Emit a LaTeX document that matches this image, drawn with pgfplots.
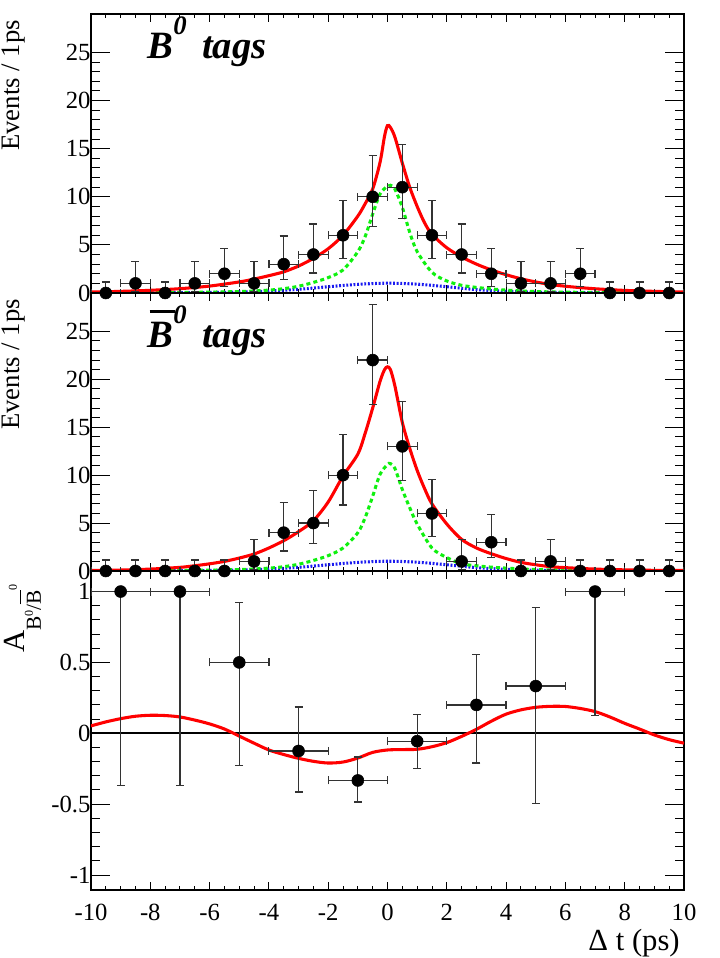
\documentclass[border=0pt]{standalone}
\usepackage{fontspec}
\setmainfont{Liberation Serif}
\usepackage{pgfplots}
\pgfplotsset{compat=1.18}
\usepackage{pgfplotstable}
\usetikzlibrary{calc}
\definecolor{rred}{RGB}{255,0,0}
\definecolor{rgreen}{RGB}{15,240,15}
\definecolor{rblue}{RGB}{25,25,240}

\pgfplotstableread{
x y ep em
-9.5 0 1.15 0
-8.5 1 2.299 0.827
-7.5 0 1.15 0
-6.5 1 2.299 0.827
-5.5 2 2.638 1.291
-4.5 1 2.299 0.827
-3.5 3 2.918 1.633
-2.5 4 3.162 1.914
-1.5 6 3.583 2.380
-0.5 10 4.266 3.108
0.5 11 4.416 3.265
1.5 6 3.583 2.380
2.5 4 3.162 1.914
3.5 2 2.638 1.291
4.5 1 2.299 0.827
5.5 1 2.299 0.827
6.5 2 2.638 1.291
7.5 0 1.15 0
8.5 0 1.15 0
9.5 0 1.15 0
}\dataA

\pgfplotstableread{
x y ep em
-9.5 0 1.15 0
-8.5 0 1.15 0
-7.5 0 1.15 0
-6.5 0 1.15 0
-5.5 0 1.15 0
-4.5 1 2.299 0.827
-3.5 4 3.162 1.914
-2.5 5 3.382 2.159
-1.5 10 4.266 3.108
-0.5 22 5.768 4.655
0.5 13 4.697 3.558
1.5 6 3.583 2.380
2.5 1 2.299 0.827
3.5 3 2.918 1.633
4.5 0 1.15 0
5.5 1 2.299 0.827
6.5 0 1.15 0
7.5 0 1.15 0
8.5 0 1.15 0
9.5 0 1.15 0
}\dataB

\pgfplotstableread{
x y ep em
-9 1 0 1.37
-7 1 0 1.37
-5 0.5 0.42 0.73
-3 -0.125 0.31 0.29
-1 -0.333 0.166 0.152
1 -0.056 0.19 0.19
3 0.2 0.355 0.41
5 0.333 0.553 0.83
7 1 0 0.876
}\dataC

\pgfplotsset{
  myax/.style={
    scale only axis, width=444.75pt, anchor=south west,
    xmin=-10, xmax=10, clip mode=individual,
    xtick={-10,-8,...,10}, minor x tick num=3,
    axis line style={line width=1.2pt},
    tick style={black, line width=0.7pt},
    xtick style={/pgfplots/major tick length=6pt,/pgfplots/minor tick length=3pt},
    ytick style={/pgfplots/major tick length=14pt,/pgfplots/minor tick length=7pt},
    tick label style={font=\fontsize{18.5}{18.5}\selectfont},
    yticklabel style={xshift=3.1pt},
    xticklabel style={yshift=-7.4pt},
    /pgf/number format/assume math mode=true,
  },
  datst/.style={only marks, mark=*, mark size=4.5pt, black,
    error bars/.cd, x dir=both, x fixed=#1, y dir=both, y explicit,
    error bar style={line width=0.9pt, black!80},
    error mark options={rotate=90, line width=0.9pt, black!80, mark size=3pt}},
  redc/.style={rred, line width=2.3pt, smooth, no marks},
  greenc/.style={rgreen, line width=2.3pt, dash pattern=on 3pt off 2.4pt, smooth, no marks},
  bluec/.style={rblue, line width=2.3pt, dash pattern=on 1.4pt off 1.3pt, smooth, no marks},
}

\begin{document}
\begin{tikzpicture}
\useasboundingbox (0,0) rectangle (540pt,718.5pt);

% ---------------- Panel 1: B0 tags
\begin{axis}[myax, at={(68.25pt,498.75pt)}, height=209.25pt,
  ymin=0, ymax=29, ytick={0,5,...,25}, minor y tick num=4, xticklabels={}]
\addplot[bluec] coordinates {(-10,0.0) (-8,0.01) (-6,0.05) (-5,0.1) (-4,0.2) (-3,0.38) (-2,0.65) (-1,0.9) (0,1.02) (1,0.92) (2,0.65) (3,0.35) (4,0.17) (5,0.08) (6,0.04) (8,0.01) (10,0.0)};
\addplot[greenc] coordinates {(-10,0.02) (-7,0.05) (-5,0.15) (-4,0.3) (-3.5,0.45) (-3,0.7) (-2.5,1.1) (-2,1.6) (-1.5,2.4) (-1,4.3) (-0.75,5.9) (-0.5,8.2) (-0.25,10.3) (0,11.1) (0.1,11.2) (0.25,10.8) (0.5,8.9) (0.75,6.3) (1,4.3) (1.5,2.15) (2,1.25) (2.5,0.8) (3,0.58) (3.5,0.42) (4,0.3) (5,0.15) (7,0.05) (10,0.02)};
\addplot[redc] coordinates {(-10,0.1) (-9,0.17) (-8,0.28) (-7,0.45) (-6,0.72) (-5,1.15) (-4.5,1.45) (-4,1.8) (-3.5,2.2) (-3,2.8) (-2.5,3.6) (-2,4.6) (-1.5,6.0) (-1,8.0) (-0.75,9.3) (-0.5,10.8) (-0.25,13.6) (-0.1,16.3) (0,17.4) (0.1,17.2) (0.25,16.2) (0.5,13.5) (0.75,11.0) (1,9.0) (1.25,7.3) (1.5,6.1) (2,4.7) (2.5,3.75) (3,3.0) (3.5,2.4) (4,1.9) (4.5,1.48) (5,1.15) (5.5,0.88) (6,0.7) (6.5,0.56) (7,0.44) (7.5,0.35) (8,0.27) (9,0.17) (10,0.1)};
\addplot[datst=0.5] table[x=x, y=y, y error plus=ep, y error minus=em] {\dataA};
\node[anchor=base west, inner sep=0, font=\fontsize{29}{29}\selectfont\bfseries\itshape] at (axis cs:-8.1,24.4) {B\raisebox{0.62em}{\fontsize{20}{20}\selectfont 0}\hspace{0.4em}tags};
\node[rotate=90, anchor=north east, inner sep=0, font=\fontsize{20}{20}\selectfont] at ($(rel axis cs:0,1)+(-66.75pt,-4.5pt)$) {Events / 1ps};
\end{axis}

% ---------------- Panel 2: B0bar tags
\begin{axis}[myax, at={(68.25pt,290.25pt)}, height=208.5pt,
  ymin=0, ymax=29, ytick={0,5,...,25}, minor y tick num=4, xticklabels={}]
\addplot[bluec] coordinates {(-10,0.0) (-8,0.01) (-6,0.05) (-5,0.1) (-4,0.2) (-3,0.38) (-2,0.65) (-1,0.9) (0,1.02) (1,0.92) (2,0.65) (3,0.35) (4,0.17) (5,0.08) (6,0.04) (8,0.01) (10,0.0)};
\addplot[greenc] coordinates {(-10,0.02) (-7,0.05) (-5,0.15) (-4,0.3) (-3.5,0.45) (-3,0.7) (-2.5,1.1) (-2,1.6) (-1.5,2.4) (-1,4.0) (-0.75,5.6) (-0.5,7.8) (-0.25,10.1) (0,11.1) (0.1,11.2) (0.25,10.7) (0.5,8.5) (0.75,6.6) (1,4.9) (1.5,2.4) (2,1.4) (2.5,0.75) (3,0.55) (3.5,0.4) (4,0.3) (5,0.15) (7,0.05) (10,0.02)};
\addplot[redc] coordinates {(-10,0.05) (-9,0.1) (-8,0.2) (-7,0.38) (-6.5,0.55) (-6,0.75) (-5.5,1.0) (-5,1.35) (-4.5,1.77) (-4,2.4) (-3.5,3.16) (-3,4.1) (-2.5,5.25) (-2,7.2) (-1.5,9.9) (-1,12.2) (-0.75,14.4) (-0.5,17.0) (-0.25,19.8) (-0.1,21.0) (0,21.3) (0.1,21.0) (0.25,19.3) (0.5,15.5) (0.75,12.8) (1,10.5) (1.25,8.6) (1.5,7.0) (2,4.9) (2.5,3.3) (3,2.4) (3.5,1.8) (4,1.3) (4.5,0.9) (5,0.65) (5.5,0.45) (6,0.35) (7,0.2) (8,0.12) (9,0.07) (10,0.05)};
\addplot[datst=0.5] table[x=x, y=y, y error plus=ep, y error minus=em] {\dataB};
\node[anchor=base west, inner sep=0, font=\fontsize{29}{29}\selectfont\bfseries\itshape] at (axis cs:-8.1,23.3) {\rlap{\hspace{1.5pt}\rule[26pt]{19pt}{2.3pt}}B\raisebox{0.62em}{\fontsize{20}{20}\selectfont 0}\hspace{0.4em}tags};
\node[rotate=90, anchor=north east, inner sep=0, font=\fontsize{20}{20}\selectfont] at ($(rel axis cs:0,1)+(-66.75pt,-4.5pt)$) {Events / 1ps};
\end{axis}

% ---------------- Panel 3: asymmetry
\begin{axis}[myax, at={(68.25pt,51pt)}, height=239.25pt,
  ymin=-1.106, ymax=1.145, ytick={-1,-0.5,0,0.5,1}, minor y tick num=4]
\addplot[black, line width=1.4pt, no marks] coordinates {(-10,0) (10,0)};
\addplot[redc] coordinates {(-10,0.052) (-9.5,0.08) (-9,0.103) (-8.5,0.12) (-8,0.127) (-7.5,0.125) (-7,0.115) (-6.5,0.093) (-6,0.066) (-5.5,0.03) (-5,-0.02) (-4.5,-0.07) (-4,-0.118) (-3.5,-0.15) (-3,-0.177) (-2.5,-0.198) (-2,-0.21) (-1.5,-0.203) (-1,-0.175) (-0.5,-0.135) (0,-0.118) (0.5,-0.115) (1,-0.113) (1.5,-0.095) (2,-0.066) (2.5,-0.022) (3,0.028) (3.5,0.085) (4,0.135) (4.5,0.165) (5,0.183) (5.5,0.19) (6,0.189) (6.5,0.175) (7,0.153) (7.5,0.115) (8,0.07) (8.5,0.03) (9,-0.012) (9.5,-0.045) (10,-0.07)};
\addplot[datst=1] table[x=x, y=y, y error plus=ep, y error minus=em] {\dataC};
\node[anchor=base east, inner sep=0, font=\fontsize{23}{23}\selectfont] at ($(rel axis cs:1,0)+(-3pt,-45pt)$) {Δ t (ps)};
\node[rotate=90, anchor=base west, inner sep=0, font=\fontsize{23}{23}\selectfont] at ($(rel axis cs:0,1)+(-49.5pt,-61.5pt)$) {A\raisebox{-12pt}{\fontsize{16}{16}\selectfont B\raisebox{6pt}{\fontsize{9}{9}\selectfont 0}/\rlap{\rule[15pt]{11pt}{0.8pt}}B\raisebox{18pt}{\fontsize{9}{9}\selectfont 0}}};
\end{axis}
\end{tikzpicture}
\end{document}
